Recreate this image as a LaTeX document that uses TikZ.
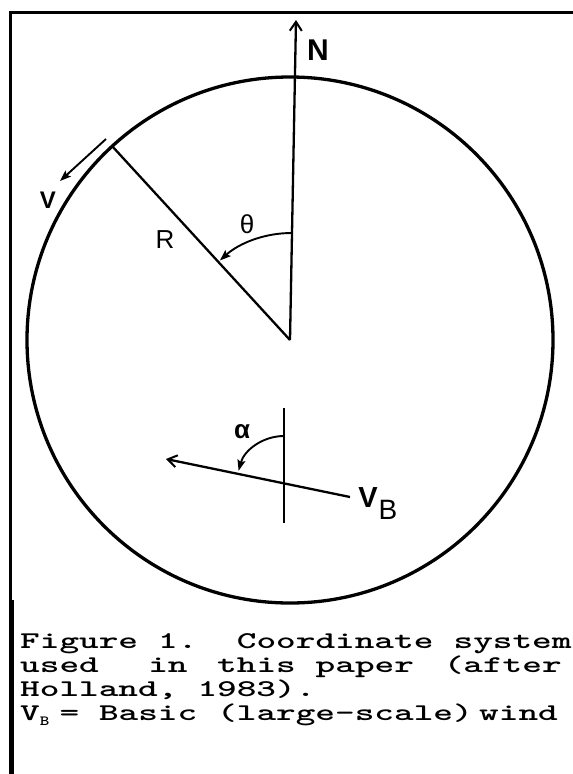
\documentclass[tikz,border=0pt]{standalone}
\usepackage{fontspec}
\setmainfont{Liberation Sans}
\usepackage{graphicx}
\usetikzlibrary{arrows.meta}
\newcommand{\colw}{19.7}
\begin{document}
\begin{tikzpicture}[x=1pt,y=-1pt,
  frame/.style={line width=3pt},
  ring/.style={line width=3.3pt},
  ray/.style={line width=2.3pt},
  thinray/.style={line width=1.9pt},
  barb/.style={-{Straight Barb[length=9pt,width=12pt,line width=2pt]}},
  filltip/.style={-{Stealth[length=11pt,width=8pt,inset=2pt]}},
  lbl/.style={inner sep=0pt, font=\fontsize{26}{26}\selectfont},
  blbl/.style={inner sep=0pt, font=\fontsize{30}{30}\selectfont\bfseries},
  captxt/.style={inner sep=0pt, anchor=base west, font=\fontsize{24}{24}\selectfont\ttfamily\bfseries}
]
\useasboundingbox (0,0) rectangle (573,774);
% frame
\coordinate (TL) at (10,12);
\coordinate (TR) at (573,12);
\coordinate (BL) at (10,774);
\draw[frame] (TR) -- (TL) -- (BL);
\coordinate (barA) at (12,600);
\coordinate (barB) at (12,774);
\draw[line width=4.5pt] (barA) -- (barB);
% circle
\node[draw, ring, circle, minimum size=526pt, inner sep=0pt] (circ) at (290,340) {};
\coordinate (C) at (290,340);
\coordinate (Ntip) at (296,20);
\coordinate (P) at (112,146);
\draw[ray] (C) -- (P);
\draw[ray, barb] (C) -- (Ntip);
\node[blbl] (N) at (318,50) {N};
% theta
\draw[thinray, filltip] (291.5,233) arc[start angle=-90, end angle=-132, radius=107];
\node[lbl] (theta) at (247,224) {θ};
\node[lbl] (R) at (165,240) {R};
% v
\coordinate (vA) at (106,139);
\coordinate (vB) at (60,181);
\draw[thinray, filltip] (vA) -- (vB);
\node[inner sep=0pt, font=\fontsize{24}{24}\selectfont\bfseries] (v) at (48,200) {V};
% basic wind
\coordinate (vt) at (284,408);
\coordinate (vb) at (284,523);
\draw[thinray] (vt) -- (vb);
\coordinate (wA) at (350,497);
\coordinate (wB) at (166,459);
\draw[ray, barb] (wA) -- (wB);
\draw[thinray, filltip] (284,436) arc[start angle=-90, end angle=-165, radius=47];
\node[inner sep=0pt, font=\fontsize{26}{26}\selectfont\bfseries] (alpha) at (242,432) {α};
\node[inner sep=0pt, font=\fontsize{29}{29}\selectfont\bfseries] (VBv) at (368,498) {V};
\node[inner sep=0pt, font=\fontsize{28}{28}\selectfont] (VBb) at (388,510) {B};
% caption
\node[captxt] (c1a) at (20,648) {\scalebox{1.56}[1]{Figure}};
\node[captxt] (c1b) at (20+7*\colw,648) {\scalebox{1.56}[1]{1.}};
\node[captxt] (c1c) at (20+11*\colw,648) {\scalebox{1.56}[1]{Coordinate}};
\node[captxt] (c1d) at (20+22*\colw,648) {\scalebox{1.56}[1]{system}};
\node[captxt] (c2a) at (20,672) {\scalebox{1.56}[1]{used}};
\node[captxt] (c2b) at (20+6.5*\colw,672) {\scalebox{1.56}[1]{in}};
\node[captxt] (c2c) at (20+10*\colw,672) {\scalebox{1.56}[1]{this}};
\node[captxt] (c2d) at (20+15*\colw,672) {\scalebox{1.56}[1]{paper}};
\node[captxt] (c2e) at (20+21.5*\colw,672) {\scalebox{1.56}[1]{(after}};
\node[captxt] (c3a) at (20,696) {\scalebox{1.56}[1]{Holland,}};
\node[captxt] (c3b) at (20+9*\colw,696) {\scalebox{1.56}[1]{1983).}};
\node[captxt] (c4a) at (20,720) {\scalebox{1.56}[1]{V}};
\node[captxt, font=\fontsize{14}{14}\selectfont\ttfamily\bfseries] (c4s) at (20+1*\colw,725) {\scalebox{1.3}[1]{B}};
\node[captxt] (c4b) at (20+2*\colw,720) {\scalebox{1.56}[1]{=}};
\node[captxt] (c4c) at (20+4*\colw,720) {\scalebox{1.56}[1]{Basic}};
\node[captxt] (c4d) at (20+10*\colw,720) {\scalebox{1.56}[1]{(large-scale)}};
\node[captxt] (c4e) at (20+23.3*\colw,720) {\scalebox{1.56}[1]{wind}};
\end{tikzpicture}
\end{document}
